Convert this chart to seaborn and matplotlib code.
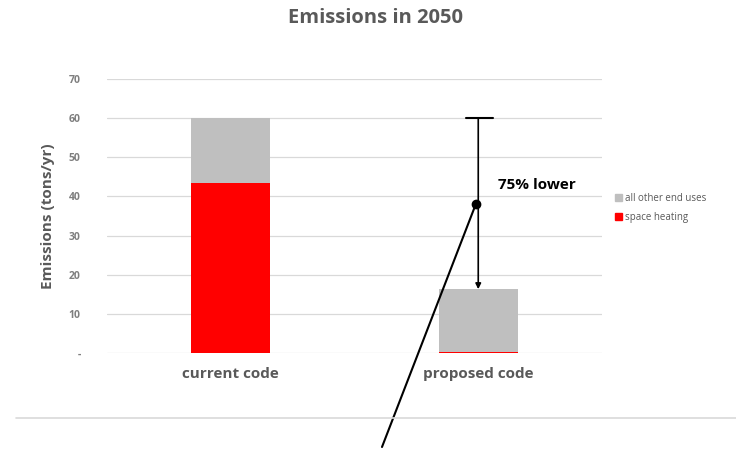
import pandas as pd
import matplotlib.pyplot as plt
import seaborn as sns
from matplotlib.lines import Line2D
from matplotlib.patches import Patch

# data (tons/yr)
codes = ['current code', 'proposed code']
space_heating = [43.5, 0.3]
other_uses = [16.5, 16.0]
totals = [h + o for h, o in zip(space_heating, other_uses)]
reduction_label = '75% lower'

df = pd.DataFrame({'code': codes, 'space heating': space_heating, 'total': totals})

sns.set_theme(style="white")
plt.rcParams['font.family'] = ['Open Sans', 'DejaVu Sans']

fig = plt.figure(figsize=(7.36, 4.5), dpi=100)
ax = fig.add_axes([107 / 736, 1 - 353 / 450, 495 / 736, 274 / 450])

grey = '#595959'
# stacked bars: total in grey behind, space heating in red on top
sns.barplot(data=df, x='code', y='total', color='#bfbfbf', width=0.32,
            saturation=1, linewidth=0, ax=ax, zorder=2)
sns.barplot(data=df, x='code', y='space heating', color='#ff0000', width=0.32,
            saturation=1, linewidth=0, ax=ax, zorder=3)

ax.set_xlim(-0.5, 1.5)
ax.set_ylim(0, 70)
ax.set_yticks(range(0, 71, 10))
ax.set_yticklabels(['-'] + [str(v) for v in range(10, 71, 10)],
                   fontsize=7.5, color='#7f7f7f', fontweight='bold')
ax.tick_params(axis='y', length=0, pad=19)
ax.tick_params(axis='x', length=0, pad=10)
for lbl in ax.get_xticklabels():
    lbl.set_fontsize(11)
    lbl.set_color(grey)
    lbl.set_fontweight('bold')
ax.grid(axis='y', color='#d9d9d9', linewidth=0.9, zorder=0)
ax.set_axisbelow(True)
for s in ax.spines.values():
    s.set_visible(False)
ax.set_xlabel('')
ax.set_ylabel('Emissions (tons/yr)', fontsize=11, color=grey,
              fontweight='bold', labelpad=10)

fig.suptitle('Emissions in 2050', fontsize=14.5, color=grey,
             fontweight='bold', x=375 / 736, y=1 - 8 / 450, va='top')

# reduction arrow with cap at the current total
ax.annotate('', xy=(1.0, totals[1]), xytext=(1.0, totals[0]),
            arrowprops=dict(arrowstyle='-|>', color='black', lw=1.2,
                            mutation_scale=8, shrinkA=0, shrinkB=0))
ax.plot([0.95, 1.06], [totals[0], totals[0]], color='black', lw=1.5,
        clip_on=False, zorder=5)
ax.text(1.08, 43, reduction_label, fontsize=11, fontweight='bold',
        color='black', va='center')

# leader line from dot down past the chart
ax.plot([0.99], [38], 'o', color='black', markersize=6, zorder=6)
ax.annotate('', xy=(0.99, 38), xycoords='data',
            xytext=(382 / 736, 1 - 447 / 450), textcoords='figure fraction',
            arrowprops=dict(arrowstyle='-', color='black', lw=1.5,
                            shrinkA=0, shrinkB=0))

# grey separator line near the bottom
fig.add_artist(Line2D([16 / 736, 1.0], [1 - 418 / 450, 1 - 418 / 450],
                      color='#d9d9d9', lw=1.2))

handles = [Patch(color='#bfbfbf', label='all other end uses'),
           Patch(color='#ff0000', label='space heating')]
leg = fig.legend(handles=handles, loc='center left',
                 bbox_to_anchor=(606 / 736, 1 - 208 / 450), frameon=False,
                 fontsize=7, handlelength=0.7, handleheight=0.7,
                 handletextpad=0.4, labelspacing=0.8)
for t in leg.get_texts():
    t.set_color(grey)

plt.savefig('out.png', dpi=100)
